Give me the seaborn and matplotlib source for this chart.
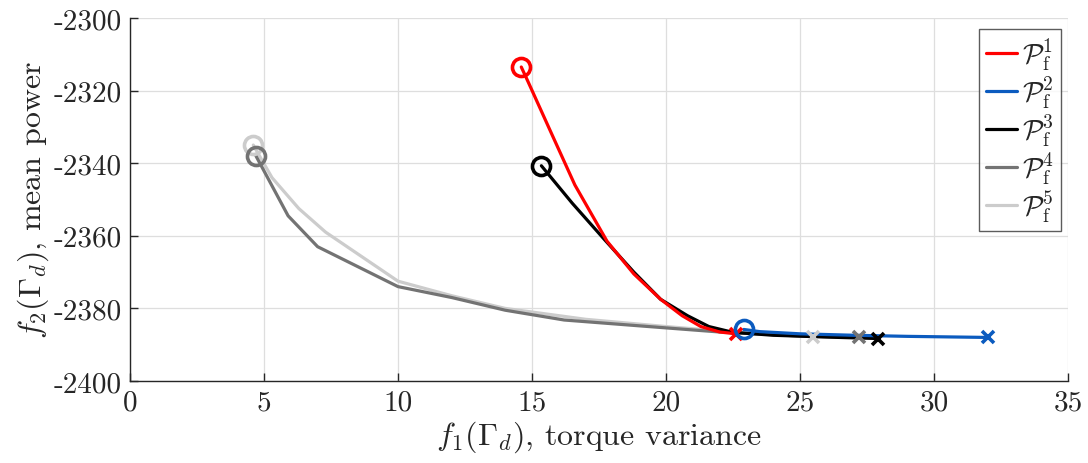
import matplotlib
matplotlib.use("Agg")
import matplotlib.pyplot as plt
import seaborn as sns
import pandas as pd
from matplotlib.lines import Line2D

# Pareto fronts (f1 = torque variance, f2 = mean power)
p1_x = [14.6, 14.85, 15.8, 16.6, 17.8, 18.8, 19.8, 20.6, 21.3, 22.0, 22.6]
p1_y = [-2313.5, -2317.5, -2333.0, -2346.0, -2361.5, -2370.5, -2377.5, -2382.0, -2385.0, -2386.5, -2387.0]
p2_x = [22.9, 23.5, 25.0, 27.0, 29.0, 31.0, 32.0]
p2_y = [-2385.8, -2386.4, -2387.0, -2387.4, -2387.7, -2387.9, -2388.0]
p3_x = [15.35, 16.5, 17.7, 18.8, 19.8, 20.8, 21.6, 22.5, 24.0, 26.0, 27.9]
p3_y = [-2340.7, -2351.0, -2361.0, -2370.0, -2377.5, -2382.0, -2385.0, -2386.6, -2387.4, -2387.9, -2388.3]
p4_x = [4.7, 5.9, 7.0, 8.5, 10.0, 12.0, 14.0, 16.2, 19.0, 22.0, 25.0, 27.2]
p4_y = [-2338.0, -2354.5, -2363.0, -2368.5, -2374.0, -2377.0, -2380.5, -2383.2, -2384.8, -2386.5, -2387.6, -2388.0]
p5_x = [4.6, 5.3, 6.3, 7.3, 8.5, 10.0, 12.0, 14.0, 17.0, 20.0, 23.0, 25.5]
p5_y = [-2335.0, -2344.0, -2352.5, -2359.0, -2365.0, -2372.5, -2376.5, -2380.0, -2383.0, -2385.0, -2386.8, -2387.8]

labels = [r'$\mathcal{P}_{\mathrm{f}}^{1}$', r'$\mathcal{P}_{\mathrm{f}}^{2}$', r'$\mathcal{P}_{\mathrm{f}}^{3}$',
          r'$\mathcal{P}_{\mathrm{f}}^{4}$', r'$\mathcal{P}_{\mathrm{f}}^{5}$']
colors = ['#ff0000', '#0b5bbf', '#000000', '#737373', '#cccccc']
xticks = [0, 5, 10, 15, 20, 25, 30, 35]
yticks = [-2400, -2380, -2360, -2340, -2320, -2300]

sns.set_theme(style="white")
plt.rcParams.update({
    'font.family': 'serif',
    'font.serif': ['cmr10', 'DejaVu Serif'],
    'mathtext.fontset': 'cm',
    'axes.unicode_minus': False,
    'axes.formatter.use_mathtext': True,
})

frames = []
for lab, xs, ys in zip(labels, [p1_x, p2_x, p3_x, p4_x, p5_x], [p1_y, p2_y, p3_y, p4_y, p5_y]):
    frames.append(pd.DataFrame({'f1': xs, 'f2': ys, 'front': lab}))
df = pd.concat(frames, ignore_index=True)

fig = plt.figure(figsize=(10.88, 4.64), dpi=100)
ax = fig.add_axes([130/1088, 1-382/464, (1068-130)/1088, (382-19)/464])

order_draw = [labels[4], labels[3], labels[2], labels[0], labels[1]]
palette = dict(zip(labels, colors))
for lab in order_draw:
    sub = df[df['front'] == lab]
    sns.lineplot(data=sub, x='f1', y='f2', sort=False, color=palette[lab], lw=2.3, ax=ax, legend=False)
    ax.plot(sub['f1'].iloc[0], sub['f2'].iloc[0], 'o', ms=13, mfc='none', mec=palette[lab], mew=2.6, zorder=5)
    ax.plot(sub['f1'].iloc[-1], sub['f2'].iloc[-1], 'x', ms=9, mec=palette[lab], mew=2.6, zorder=5)

handles = [Line2D([0], [0], color=c, lw=2.3) for c in colors]
leg = ax.legend(handles, labels, loc='upper right', bbox_to_anchor=(0.9985, 0.985), fontsize=20,
                frameon=True, fancybox=False, edgecolor='#333333', handlelength=1.1,
                handletextpad=0.2, labelspacing=0.05, borderpad=0.25, borderaxespad=0.2)
leg.get_frame().set_linewidth(1.0)

ax.set_xlim(0, 35)
ax.set_ylim(-2400, -2300)
ax.set_xticks(xticks)
ax.set_yticks(yticks)
ax.set_xticklabels([str(t) for t in xticks])
ax.set_yticklabels([str(t) for t in yticks])
ax.grid(True, color='#dedede', lw=0.9)
for s in ['top', 'right']:
    ax.spines[s].set_visible(False)
for s in ['left', 'bottom']:
    ax.spines[s].set_color('#262626')
    ax.spines[s].set_linewidth(1.0)
ax.tick_params(direction='in', length=6, width=1, colors='#262626', labelsize=21, labelcolor='#262626',
               left=True, bottom=True, pad=6)
ax.set_xlabel(r'$f_1(\boldsymbol{\Gamma}_d)$, torque variance', fontsize=23, color='#262626', labelpad=2)
ax.set_ylabel(r'$f_2(\boldsymbol{\Gamma}_d)$, mean power', fontsize=23, color='#262626', labelpad=2)

fig.savefig('out.png', dpi=100)
